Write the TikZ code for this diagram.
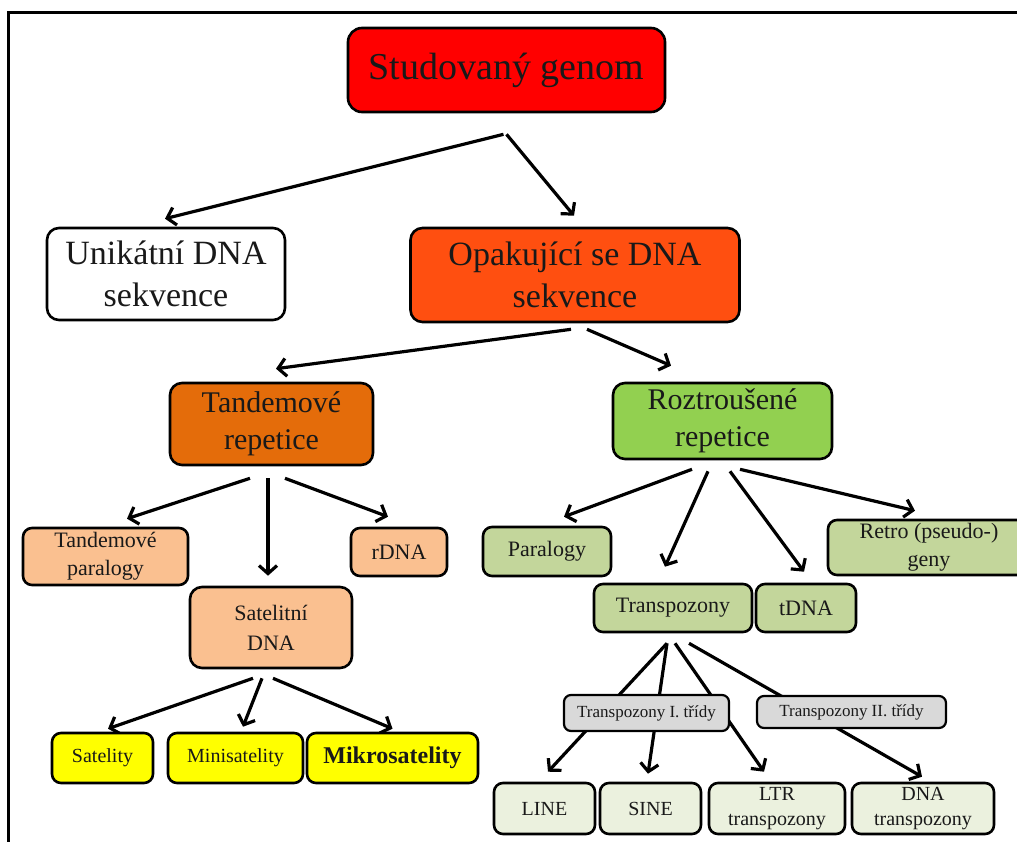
\documentclass[tikz,border=0pt]{standalone}
\usepackage{fontspec}
\setmainfont{Liberation Serif}
\usetikzlibrary{arrows.meta,calc,backgrounds}
\definecolor{gnRed}{HTML}{FF0000}
\definecolor{gnOrangeRed}{HTML}{FF4F10}
\definecolor{gnOrange}{HTML}{E46C0A}
\definecolor{gnGreen}{HTML}{92D050}
\definecolor{gnSalmon}{HTML}{FAC090}
\definecolor{gnYellow}{HTML}{FFFF00}
\definecolor{gnOlive}{HTML}{C3D69B}
\definecolor{gnPale}{HTML}{EBF1DE}
\definecolor{gnGray}{HTML}{D9D9D9}

\begin{document}
\begin{tikzpicture}[
    x=0.5pt, y=-0.5pt,
    box/.style={rectangle, draw, line width=1.3pt, rounded corners=4.5pt, align=center, inner sep=0pt, text=black!90},
    arrow/.style={-{Straight Barb[length=4pt,width=9pt]}, line width=1.6pt},
    txtHuge/.style={font=\fontsize{19}{23}\selectfont},
    txtLarge/.style={font=\fontsize{17}{21}\selectfont},
    txtMid/.style={font=\fontsize{15}{18.5}\selectfont},
    txtNorm/.style={font=\fontsize{11}{14}\selectfont},
    txtSmall/.style={font=\fontsize{10}{12.5}\selectfont},
    txtTiny/.style={font=\fontsize{8.5}{10}\selectfont}
]
\useasboundingbox (0,0) rectangle (1017,841);

% frame
\draw[line width=1.5pt] (8,860) -- (8,12) -- (1030,12);

% top levels
\node[box, txtHuge, fill=gnRed, rounded corners=7pt, minimum width=158.5pt, minimum height=42pt] (genom) at (506.5,70) {Studovaný genom};
\node[box, txtLarge, fill=white, rounded corners=6pt, minimum width=119pt, minimum height=46pt] (unik) at (166,274) {Unikátní DNA\\sekvence};
\node[box, txtLarge, fill=gnOrangeRed, rounded corners=6pt, minimum width=164.5pt, minimum height=47pt] (opak) at (575,275) {Opakující se DNA\\sekvence};
\node[box, txtMid, fill=gnOrange, rounded corners=6pt, minimum width=101.5pt, minimum height=41pt] (tand) at (271.5,424) {Tandemové\\repetice};
\node[box, txtMid, fill=gnGreen, rounded corners=6pt, minimum width=109.5pt, minimum height=38pt] (rozt) at (722.5,421) {Roztroušené\\repetice};

% tandem branch
\node[box, txtNorm, fill=gnSalmon, minimum width=82.5pt, minimum height=28.5pt] (tpar) at (105.5,556.5) {Tandemové\\paralogy};
\node[box, txtNorm, fill=gnSalmon, minimum width=48pt, minimum height=24pt] (rdna) at (399,552) {rDNA};
\node[box, txtNorm, fill=gnSalmon, rounded corners=6pt, minimum width=81pt, minimum height=40.5pt, font=\fontsize{11}{15}\selectfont] (satdna) at (271,627.5) {Satelitní\\DNA};
\node[box, txtSmall, fill=gnYellow, minimum width=50.5pt, minimum height=25pt] (sat) at (102.5,758) {Satelity};
\node[box, txtSmall, fill=gnYellow, minimum width=67.5pt, minimum height=25pt] (mini) at (235.5,758) {Minisatelity};
\node[box, fill=gnYellow, minimum width=85.5pt, minimum height=25pt, font=\fontsize{12}{14}\selectfont\bfseries] (mikro) at (392.5,758) {Mikrosatelity};

% dispersed branch
\node[box, txtNorm, fill=gnOlive, minimum width=64pt, minimum height=24.5pt] (par) at (547,551.5) {Paralogy};
\node[box, txtNorm, fill=gnOlive, minimum width=101pt, minimum height=27.5pt] (retro) at (929,547.5) {Retro (pseudo-)\\geny};
\node[box, txtNorm, fill=gnOlive, minimum width=79pt, minimum height=24pt] (transp) at (673,608) {Transpozony};
\node[box, txtNorm, fill=gnOlive, minimum width=50pt, minimum height=24pt] (tdna) at (806,608) {tDNA};
\node[box, txtTiny, fill=gnGray, line width=1.1pt, rounded corners=3.5pt, minimum width=82.5pt, minimum height=18pt] (tclassI) at (646.5,713) {Transpozony I. třídy};
\node[box, txtTiny, fill=gnGray, line width=1.1pt, rounded corners=3.5pt, minimum width=94.5pt, minimum height=16pt] (tclassII) at (851.5,712) {Transpozony II. třídy};
\node[box, txtSmall, fill=gnPale, minimum width=50.5pt, minimum height=25.5pt] (line) at (544.5,808.5) {LINE};
\node[box, txtSmall, fill=gnPale, minimum width=50.5pt, minimum height=25.5pt] (sine) at (650.5,808.5) {SINE};
\node[box, txtSmall, fill=gnPale, minimum width=68pt, minimum height=25.5pt] (ltr) at (777,808.5) {LTR\\transpozony};
\node[box, txtSmall, fill=gnPale, minimum width=71pt, minimum height=25.5pt] (dnat) at (923,808.5) {DNA\\transpozony};

% Arrows
\begin{scope}[on background layer]
\draw[arrow] ($(genom.south)+(-3,21)$) -- ($(unik.north)+(-1,-8)$);
\draw[arrow] ($(genom.south)+(0,21)$) -- ($(opak.north)+(-1,-11)$);
\draw[arrow] ($(opak.south)+(-4,6)$) -- ($(tand.north)+(4.5,-13)$);
\draw[arrow] ($(opak.south)+(12,6)$) -- ($(rozt.north)+(-51.5,-16)$);

\draw[arrow] ($(tand.south)+(-21.5,12)$) -- ($(tpar.north)+(21.5,-8)$);
\draw[arrow] ($(tand.south)+(-3.5,12)$) -- ($(satdna.north)+(-3,-10)$);
\draw[arrow] ($(tand.south)+(13.5,12)$) -- ($(rdna.north)+(-11,-10)$);
\draw[arrow] ($(satdna.south)+(-18,9)$) -- ($(sat.north)+(5.5,-3)$);
\draw[arrow] ($(satdna.south)+(-9,9)$) -- ($(mini.north)+(7.5,-5)$);
\draw[arrow] ($(satdna.south)+(2,9)$) -- ($(mikro.north)+(0,-3)$);

\draw[arrow] ($(rozt.south)+(-30.5,9)$) -- ($(par.north)+(17,-9)$);
\draw[arrow] ($(rozt.south)+(-14.5,11)$) -- ($(transp.north)+(-8,-16)$);
\draw[arrow] ($(rozt.south)+(7.5,11)$) -- ($(tdna.north)+(-2,-11)$);
\draw[arrow] ($(rozt.south)+(17.5,9)$) -- ($(retro.north)+(-14,-8)$);

\draw[arrow] ($(transp.south)+(-6,10)$) -- ($(line.north)+(3.5,-10)$);
\draw[arrow] ($(transp.south)+(-6,10)$) -- ($(sine.north)+(-2.5,-8)$);
\draw[arrow] ($(transp.south)+(2,10)$) -- ($(ltr.north)+(-13,-10)$);
\draw[arrow] ($(transp.south)+(16,10)$) -- ($(dnat.north)+(-1,-5)$);
\end{scope}

\end{tikzpicture}
\end{document}
